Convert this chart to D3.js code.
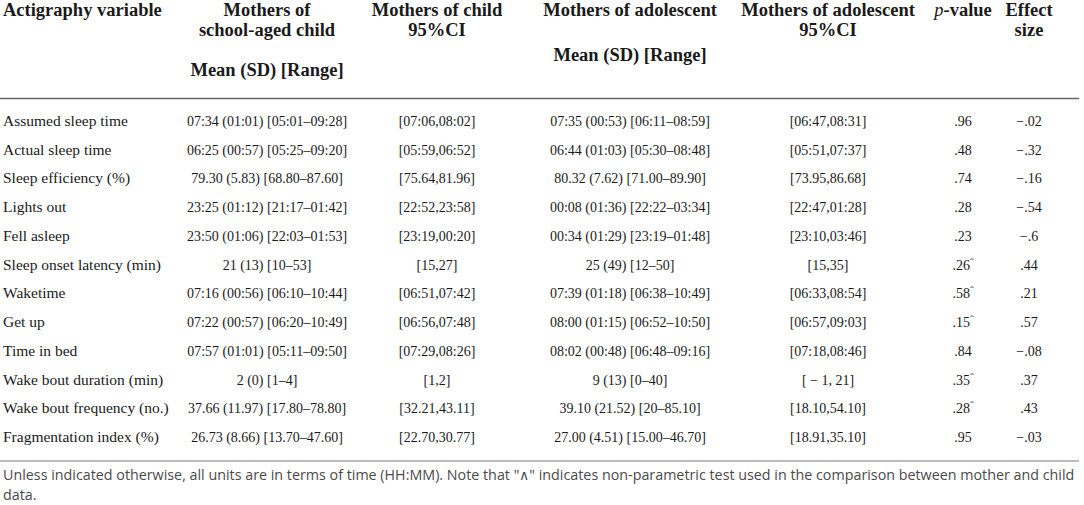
<!DOCTYPE html>
<html>
<head>
<meta charset="utf-8">
<script src="https://cdn.jsdelivr.net/npm/d3@7"></script>
<style>
  body { margin: 0; background: #fff; }
  svg { display: block; }
</style>
</head>
<body>
<script>
var W = 1084, H = 505;

// table content
var variables = ["Assumed sleep time", "Actual sleep time", "Sleep efficiency (%)", "Lights out",
                 "Fell asleep", "Sleep onset latency (min)", "Waketime", "Get up", "Time in bed",
                 "Wake bout duration (min)", "Wake bout frequency (no.)", "Fragmentation index (%)"];
var childMean = ["07:34 (01:01) [05:01–09:28]", "06:25 (00:57) [05:25–09:20]", "79.30 (5.83) [68.80–87.60]",
                 "23:25 (01:12) [21:17–01:42]", "23:50 (01:06) [22:03–01:53]", "21 (13) [10–53]",
                 "07:16 (00:56) [06:10–10:44]", "07:22 (00:57) [06:20–10:49]", "07:57 (01:01) [05:11–09:50]",
                 "2 (0) [1–4]", "37.66 (11.97) [17.80–78.80]", "26.73 (8.66) [13.70–47.60]"];
var childCI = ["[07:06,08:02]", "[05:59,06:52]", "[75.64,81.96]", "[22:52,23:58]", "[23:19,00:20]", "[15,27]",
               "[06:51,07:42]", "[06:56,07:48]", "[07:29,08:26]", "[1,2]", "[32.21,43.11]", "[22.70,30.77]"];
var adolMean = ["07:35 (00:53) [06:11–08:59]", "06:44 (01:03) [05:30–08:48]", "80.32 (7.62) [71.00–89.90]",
                "00:08 (01:36) [22:22–03:34]", "00:34 (01:29) [23:19–01:48]", "25 (49) [12–50]",
                "07:39 (01:18) [06:38–10:49]", "08:00 (01:15) [06:52–10:50]", "08:02 (00:48) [06:48–09:16]",
                "9 (13) [0–40]", "39.10 (21.52) [20–85.10]", "27.00 (4.51) [15.00–46.70]"];
var adolCI = ["[06:47,08:31]", "[05:51,07:37]", "[73.95,86.68]", "[22:47,01:28]", "[23:10,03:46]", "[15,35]",
              "[06:33,08:54]", "[06:57,09:03]", "[07:18,08:46]", "[ − 1, 21]", "[18.10,54.10]", "[18.91,35.10]"];
var pValues = [".96", ".48", ".74", ".28", ".23", ".26", ".58", ".15", ".84", ".35", ".28", ".95"];
var nonParametric = [false, false, false, false, false, true, true, true, false, true, true, false];
var effectSizes = ["−.02", "−.32", "−.16", "−.54", "−.6", ".44", ".21", ".57", "−.08", ".37", ".43", "−.03"];

var headers = [
  {col: "var", lines: [["Actigraphy variable", 0]]},
  {col: "cm", lines: [["Mothers of", 0], ["school-aged child", 1], ["Mean (SD) [Range]", 3]]},
  {col: "cci", lines: [["Mothers of child", 0], ["95%CI", 1]]},
  {col: "am", lines: [["Mothers of adolescent", 0], ["Mean (SD) [Range]", 2.25]]},
  {col: "aci", lines: [["Mothers of adolescent", 0], ["95%CI", 1]]},
  {col: "p", lines: [["p-value", 0]]},
  {col: "es", lines: [["Effect", 0], ["size", 1]]}
];
var footnote = ["Unless indicated otherwise, all units are in terms of time (HH:MM). Note that \"\u2227\" indicates non-parametric test used in the comparison between mother and child",
                "data."];

// layout
var colX = d3.scaleOrdinal()
  .domain(["var", "cm", "cci", "am", "aci", "p", "es"])
  .range([3, 267, 437, 630, 828, 963, 1029]);
var rowY = d3.scalePoint().domain(variables).range([121, 437]);
var headY = d3.scaleLinear().domain([0, 1]).range([10, 30]);

var serif = "'Liberation Serif', 'Times New Roman', serif";
var ink = "#1a1a1a";

var svg = d3.select("body").append("svg")
  .attr("width", W).attr("height", H);

// header
headers.forEach(function(h) {
  svg.selectAll(null)
    .data(h.lines)
    .enter()
    .append("text")
    .attr("x", colX(h.col))
    .attr("y", function(d) { return headY(d[1]) + 6; })
    .attr("text-anchor", h.col == "var" ? "start" : "middle")
    .attr("font-family", serif)
    .attr("font-weight", "bold")
    .attr("font-size", "18.5px")
    .attr("fill", ink)
    .each(function(d) {
      var t = d3.select(this);
      if (d[0] == "p-value") {
        t.append("tspan").attr("font-style", "italic").attr("font-weight", "normal").text("p");
        t.append("tspan").text("-value");
      } else {
        t.text(d[0]);
      }
    });
});

// rules
svg.append("line")
  .attr("x1", 0).attr("x2", 1079)
  .attr("y1", 98.5).attr("y2", 98.5)
  .attr("stroke", "#666").attr("stroke-width", 1.6);
svg.append("line")
  .attr("x1", 0).attr("x2", 1079)
  .attr("y1", 461).attr("y2", 461)
  .attr("stroke", "#bbb").attr("stroke-width", 2);

// body rows
var rows = variables.map(function(v, i) {
  return {v: v, cm: childMean[i], cci: childCI[i], am: adolMean[i], aci: adolCI[i],
          p: pValues[i], np: nonParametric[i], es: effectSizes[i]};
});

var cols = ["var", "cm", "cci", "am", "aci", "p", "es"];
var keyOf = {"var": "v", cm: "cm", cci: "cci", am: "am", aci: "aci", p: "p", es: "es"};

cols.forEach(function(c) {
  svg.selectAll("text.c-" + c)
    .data(rows)
    .enter()
    .append("text")
    .attr("class", "c-" + c)
    .attr("x", colX(c))
    .attr("y", function(d) { return rowY(d.v) + 5; })
    .attr("text-anchor", c == "var" ? "start" : "middle")
    .attr("font-family", serif)
    .attr("font-size", c == "var" ? "15.5px" : "14px")
    .attr("fill", ink)
    .each(function(d) {
      var t = d3.select(this);
      t.append("tspan").text(d[keyOf[c]]);
      if (c == "p" && d.np) {
        t.append("tspan").attr("font-size", "11px").attr("dy", -4).text("\u02c6");
      }
    });
});

// footnote
svg.selectAll("text.note")
  .data(footnote)
  .enter()
  .append("text")
  .attr("class", "note")
  .attr("x", 3)
  .attr("y", function(d, i) { return 480 + i * 20; })
  .attr("font-family", "'Open Sans', sans-serif")
  .attr("font-size", "14.3px")
  .attr("fill", "#4a4a4a")
  .text(function(d) { return d; });
</script>
</body>
</html>
